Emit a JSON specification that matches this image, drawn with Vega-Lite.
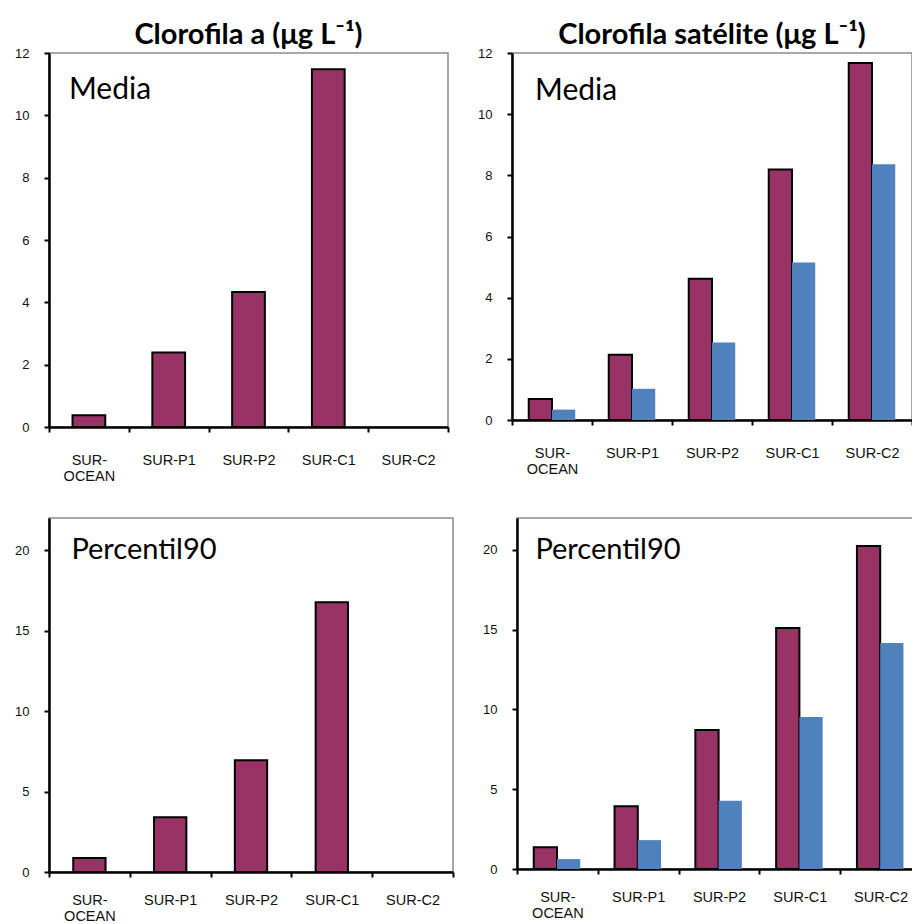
{
  "$schema": "https://vega.github.io/schema/vega-lite/v6.json",
  "padding": {"left": 8, "top": 20, "right": 0, "bottom": 0},
  "background": "white",
  "datasets": {
    "d": [
      {"p": "a_media", "site": "SUR-OCEAN", "serie": "in situ", "v": 0.38},
      {"p": "a_media", "site": "SUR-P1", "serie": "in situ", "v": 2.39},
      {"p": "a_media", "site": "SUR-P2", "serie": "in situ", "v": 4.33},
      {"p": "a_media", "site": "SUR-C1", "serie": "in situ", "v": 11.48},
      {"p": "s_media", "site": "SUR-OCEAN", "serie": "in situ", "v": 0.69},
      {"p": "s_media", "site": "SUR-P1", "serie": "in situ", "v": 2.13},
      {"p": "s_media", "site": "SUR-P2", "serie": "in situ", "v": 4.62},
      {"p": "s_media", "site": "SUR-C1", "serie": "in situ", "v": 8.19},
      {"p": "s_media", "site": "SUR-C2", "serie": "in situ", "v": 11.67},
      {"p": "s_media", "site": "SUR-OCEAN", "serie": "satelite", "v": 0.34},
      {"p": "s_media", "site": "SUR-P1", "serie": "satelite", "v": 1.02},
      {"p": "s_media", "site": "SUR-P2", "serie": "satelite", "v": 2.53},
      {"p": "s_media", "site": "SUR-C1", "serie": "satelite", "v": 5.15},
      {"p": "s_media", "site": "SUR-C2", "serie": "satelite", "v": 8.36},
      {"p": "a_p90", "site": "SUR-OCEAN", "serie": "in situ", "v": 0.87},
      {"p": "a_p90", "site": "SUR-P1", "serie": "in situ", "v": 3.4},
      {"p": "a_p90", "site": "SUR-P2", "serie": "in situ", "v": 6.95},
      {"p": "a_p90", "site": "SUR-C1", "serie": "in situ", "v": 16.77},
      {"p": "s_p90", "site": "SUR-OCEAN", "serie": "in situ", "v": 1.37},
      {"p": "s_p90", "site": "SUR-P1", "serie": "in situ", "v": 3.94},
      {"p": "s_p90", "site": "SUR-P2", "serie": "in situ", "v": 8.72},
      {"p": "s_p90", "site": "SUR-C1", "serie": "in situ", "v": 15.11},
      {"p": "s_p90", "site": "SUR-C2", "serie": "in situ", "v": 20.25},
      {"p": "s_p90", "site": "SUR-OCEAN", "serie": "satelite", "v": 0.62},
      {"p": "s_p90", "site": "SUR-P1", "serie": "satelite", "v": 1.81},
      {"p": "s_p90", "site": "SUR-P2", "serie": "satelite", "v": 4.27},
      {"p": "s_p90", "site": "SUR-C1", "serie": "satelite", "v": 9.53},
      {"p": "s_p90", "site": "SUR-C2", "serie": "satelite", "v": 14.17}
    ]
  },
  "config": {
    "view": {"stroke": "#8c8c8c", "strokeWidth": 1.5},
    "axis": {
      "grid": false,
      "title": null,
      "domainColor": "black",
      "domainWidth": 2.5,
      "tickColor": "black",
      "tickWidth": 2,
      "tickSize": 5,
      "labelFont": "Liberation Sans",
      "labelFontSize": 13,
      "labelColor": "#111"
    },
    "axisX": {"labelAngle": 0, "labelPadding": 21, "labelFontSize": 14.5, "tickBand": "extent", "labelLineHeight": 16, "labelBaseline": "top"},
    "axisY": {"labelPadding": 15, "minExtent": 35},
    "title": {"font": "Lato", "fontSize": 29, "fontWeight": "bold", "color": "black", "offset": -3, "baseline": "alphabetic", "anchor": "middle"},
    "concat": {"spacing": 26}
  },
  "spacing": 33,
  "vconcat": [
    {
      "spacing": 26,
      "hconcat": [
        {
          "width": 399, "height": 374,
          "title": "Clorofila a (μg L⁻¹)",
          "layer": [
            {
              "data": {"name": "d"},
              "transform": [{"filter": "datum.p == 'a_media'"}],
              "mark": {"type": "bar", "fill": "#993366", "stroke": "black", "strokeWidth": 2, "width": {"band": 0.41}},
              "encoding": {
                "x": {"field": "site", "type": "nominal", "scale": {"domain": ["SUR-OCEAN", "SUR-P1", "SUR-P2", "SUR-C1", "SUR-C2"], "paddingInner": 0, "paddingOuter": 0},
                  "axis": {"labelExpr": "datum.value == 'SUR-OCEAN' ? ['SUR-', 'OCEAN'] : datum.value"}},
                "y": {"field": "v", "type": "quantitative", "scale": {"domain": [0, 12], "nice": false}, "axis": {"values": [0, 2, 4, 6, 8, 10, 12], "minExtent": 40}}
              }
            },
            {
              "data": {"values": [{"t": "Media"}]},
              "mark": {"type": "text", "align": "left", "baseline": "middle", "dx": -20, "font": "Lato", "fontSize": 30, "color": "black"},
              "encoding": {"x": {"datum": "SUR-OCEAN"}, "y": {"datum": 10.8}, "text": {"field": "t"}}
            }
          ]
        },
        {
          "width": 400, "height": 367,
          "title": "Clorofila satélite (μg L⁻¹)",
          "layer": [
            {
              "data": {"name": "d"},
              "transform": [{"filter": "datum.p == 's_media'"}],
              "mark": {"type": "bar", "strokeWidth": 2},
              "encoding": {
                "x": {"field": "site", "type": "nominal", "scale": {"domain": ["SUR-OCEAN", "SUR-P1", "SUR-P2", "SUR-C1", "SUR-C2"], "paddingInner": 0, "paddingOuter": 0},
                  "axis": {"labelExpr": "datum.value == 'SUR-OCEAN' ? ['SUR-', 'OCEAN'] : datum.value"}},
                "xOffset": {"field": "serie", "type": "nominal", "scale": {"domain": ["in situ", "satelite"], "paddingOuter": 0.72, "paddingInner": 0}},
                "y": {"field": "v", "type": "quantitative", "scale": {"domain": [0, 12], "nice": false}, "axis": {"values": [0, 2, 4, 6, 8, 10, 12]}},
                "fill": {"field": "serie", "type": "nominal", "scale": {"domain": ["in situ", "satelite"], "range": ["#993366", "#4f81bd"]}, "legend": null},
                "stroke": {"field": "serie", "type": "nominal", "scale": {"domain": ["in situ", "satelite"], "range": ["black", "transparent"]}, "legend": null}
              }
            },
            {
              "data": {"values": [{"t": "Media"}]},
              "mark": {"type": "text", "align": "left", "baseline": "middle", "dx": -17, "font": "Lato", "fontSize": 30, "color": "black"},
              "encoding": {"x": {"datum": "SUR-OCEAN"}, "y": {"datum": 10.75}, "text": {"field": "t"}}
            }
          ]
        }
      ]
    },
    {
      "spacing": 26,
      "hconcat": [
        {
          "width": 404, "height": 354,
          "layer": [
            {
              "data": {"name": "d"},
              "transform": [{"filter": "datum.p == 'a_p90'"}],
              "mark": {"type": "bar", "fill": "#993366", "stroke": "black", "strokeWidth": 2, "width": {"band": 0.4}},
              "encoding": {
                "x": {"field": "site", "type": "nominal", "scale": {"domain": ["SUR-OCEAN", "SUR-P1", "SUR-P2", "SUR-C1", "SUR-C2"], "paddingInner": 0, "paddingOuter": 0},
                  "axis": {"labelPadding": 16, "labelExpr": "datum.value == 'SUR-OCEAN' ? ['SUR-', 'OCEAN'] : datum.value"}},
                "y": {"field": "v", "type": "quantitative", "scale": {"domain": [0, 22], "nice": false}, "axis": {"values": [0, 5, 10, 15, 20]}}
              }
            },
            {
              "data": {"values": [{"t": "Percentil90"}]},
              "mark": {"type": "text", "align": "left", "baseline": "middle", "dx": -18, "font": "Lato", "fontSize": 29, "color": "black"},
              "encoding": {"x": {"datum": "SUR-OCEAN"}, "y": {"datum": 20}, "text": {"field": "t"}}
            }
          ]
        },
        {
          "width": 404, "height": 351,
          "layer": [
            {
              "data": {"name": "d"},
              "transform": [{"filter": "datum.p == 's_p90'"}],
              "mark": {"type": "bar", "strokeWidth": 2},
              "encoding": {
                "x": {"field": "site", "type": "nominal", "scale": {"domain": ["SUR-OCEAN", "SUR-P1", "SUR-P2", "SUR-C1", "SUR-C2"], "paddingInner": 0, "paddingOuter": 0},
                  "axis": {"labelPadding": 16, "labelExpr": "datum.value == 'SUR-OCEAN' ? ['SUR-', 'OCEAN'] : datum.value"}},
                "xOffset": {"field": "serie", "type": "nominal", "scale": {"domain": ["in situ", "satelite"], "paddingOuter": 0.7, "paddingInner": 0}},
                "y": {"field": "v", "type": "quantitative", "scale": {"domain": [0, 22], "nice": false}, "axis": {"values": [0, 5, 10, 15, 20]}},
                "fill": {"field": "serie", "type": "nominal", "scale": {"domain": ["in situ", "satelite"], "range": ["#993366", "#4f81bd"]}, "legend": null},
                "stroke": {"field": "serie", "type": "nominal", "scale": {"domain": ["in situ", "satelite"], "range": ["black", "transparent"]}, "legend": null}
              }
            },
            {
              "data": {"values": [{"t": "Percentil90"}]},
              "mark": {"type": "text", "align": "left", "baseline": "middle", "dx": -22, "font": "Lato", "fontSize": 29, "color": "black"},
              "encoding": {"x": {"datum": "SUR-OCEAN"}, "y": {"datum": 20}, "text": {"field": "t"}}
            }
          ]
        }
      ]
    }
  ]
}
